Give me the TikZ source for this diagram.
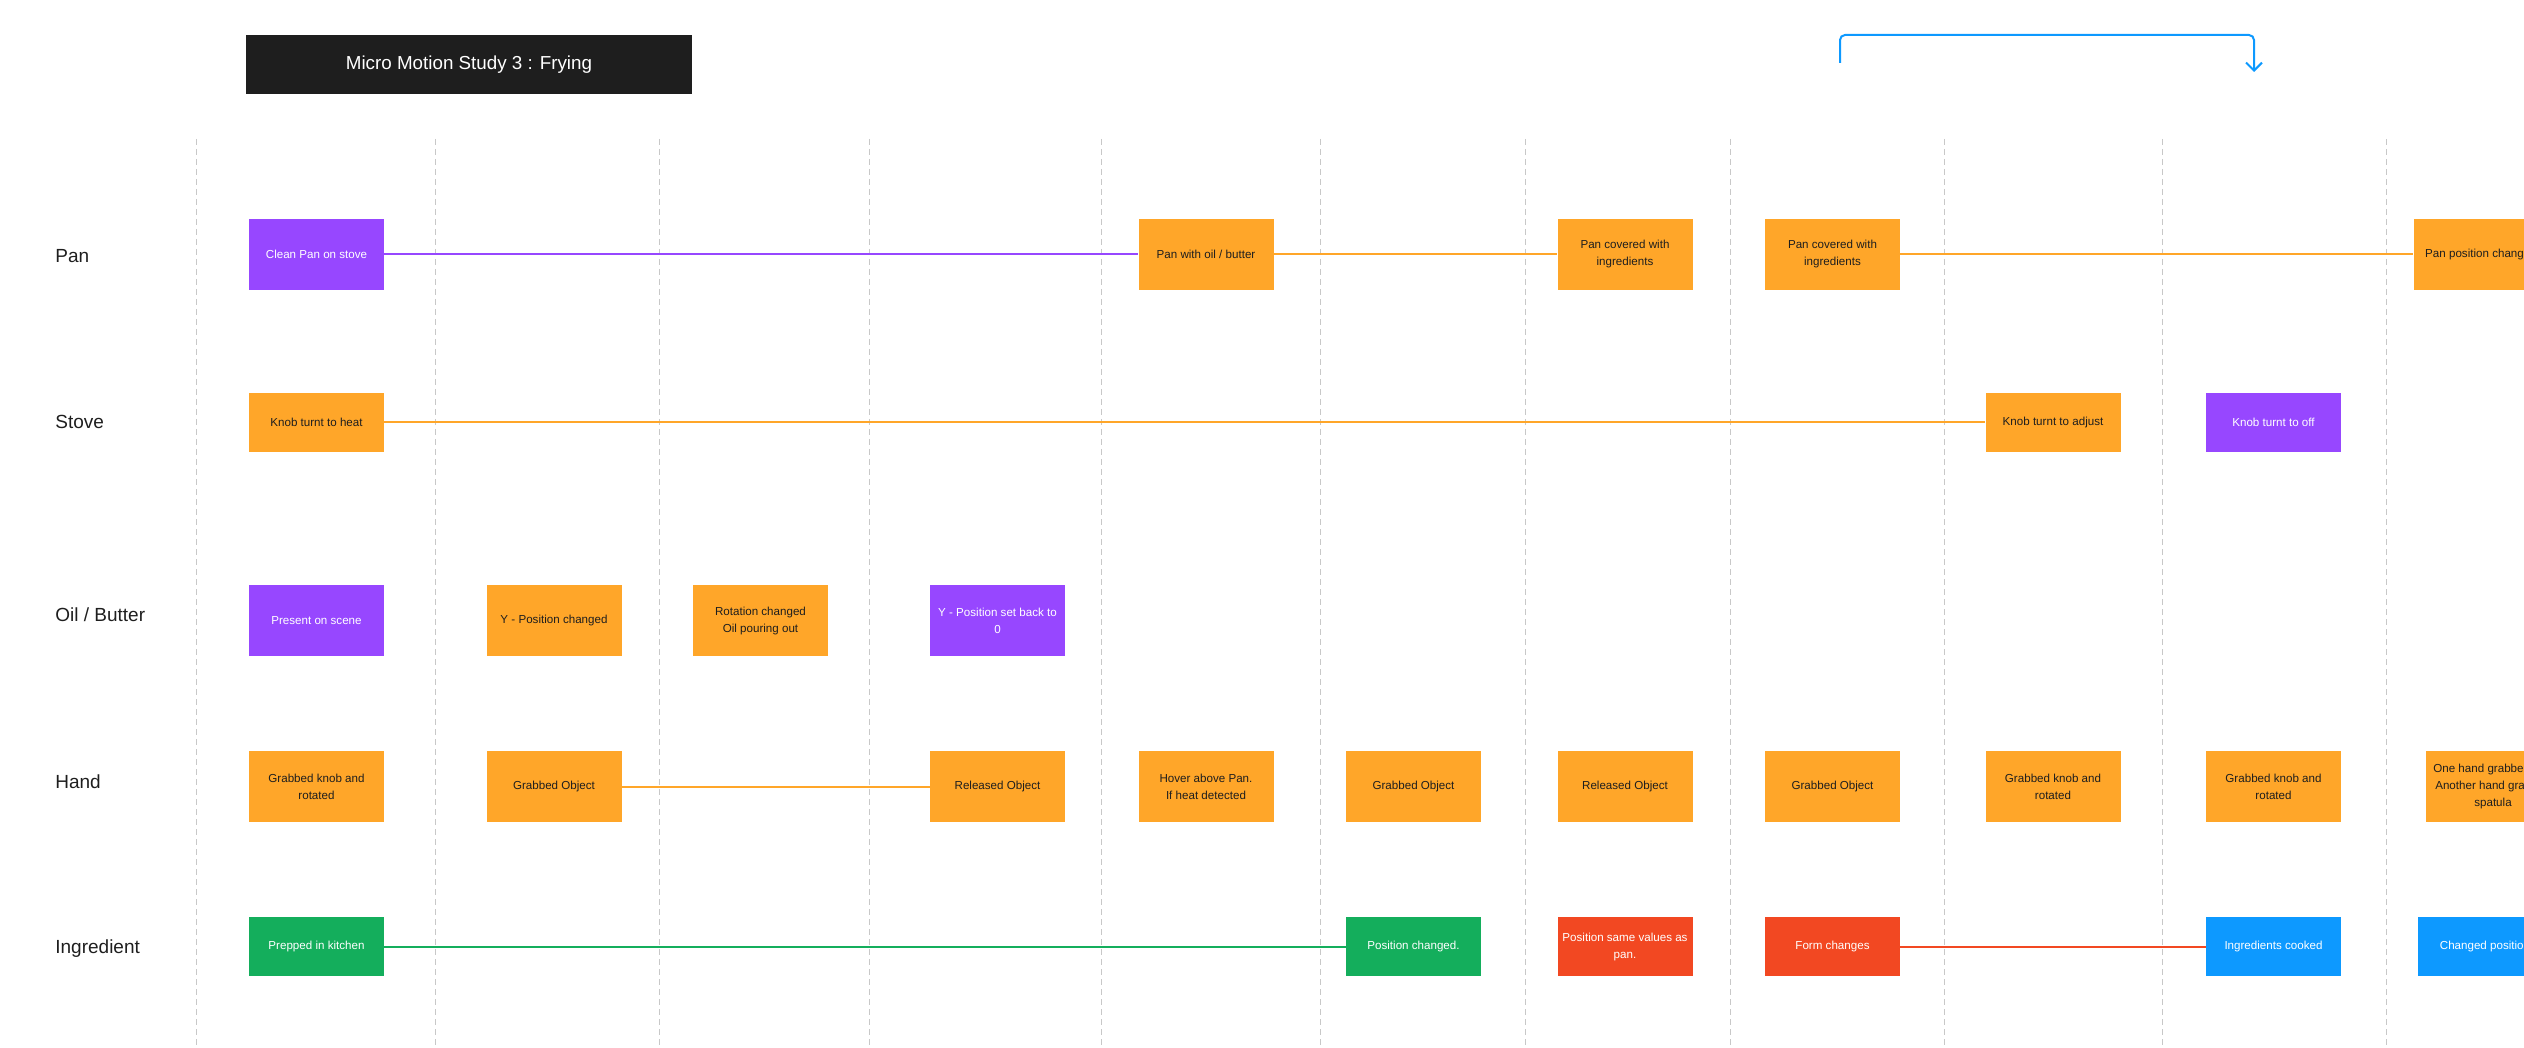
\documentclass[tikz,border=0pt]{standalone}
\usepackage{fontspec}
\setmainfont{Liberation Sans}
\usetikzlibrary{arrows.meta}
\definecolor{figpurple}{HTML}{9747FF}
\definecolor{figorange}{HTML}{FFA629}
\definecolor{figgreen}{HTML}{14AE5C}
\definecolor{figred}{HTML}{F24822}
\definecolor{figblue}{HTML}{0D99FF}
\definecolor{figdark}{HTML}{1E1E1E}
\definecolor{gridgrey}{HTML}{C8C8C8}

\begin{document}
\begin{tikzpicture}[x=0.5pt,y=-0.5pt,
    card/.style={minimum width=67.5pt,minimum height=35.5pt,inner sep=0pt,
      align=center,font=\fontsize{5.8}{8.5}\selectfont},
    low/.style={minimum height=29.5pt},
    orangecard/.style={card,fill=figorange,text=figdark},
    purplecard/.style={card,fill=figpurple,text=white},
    greencard/.style={card,fill=figgreen,text=white},
    redcard/.style={card,fill=figred,text=white},
    bluecard/.style={card,fill=figblue,text=white},
    rowlabel/.style={anchor=base west,inner sep=0pt,text=figdark,font=\fontsize{9.5}{11}\selectfont},
    track/.style={line width=1pt}]
    \useasboundingbox (0,0) rectangle (2524,1048);
    \clip (0,0) rectangle (2524,1048);

    % time columns
    \foreach \x in {196,435,659,869,1101,1320,1525,1730,1944,2162,2386}
      \draw[gridgrey,line width=0.5pt,dash pattern=on 3pt off 2pt] (\x,139) -- (\x,1048);

    % title
    \node[fill=figdark,text=white,minimum width=223pt,minimum height=29.5pt,
      font=\fontsize{9.4}{11}\selectfont] (title) at (469,64.5) {Micro Motion Study 3 : Frying};

    % loop arrow
    \coordinate (loopstart) at (1840,63);
    \coordinate (loopend) at (2254,72);
    \draw[figblue,line width=1pt,rounded corners=2.5pt,-{Straight Barb[length=4pt,width=8pt]}]
      (loopstart) -- (loopstart |- 0,35) -| (loopend);

    % row labels
    \node[rowlabel] (lpan) at (55,263) {Pan};
    \node[rowlabel] (lstove) at (55,429) {Stove};
    \node[rowlabel] (loil) at (55,621) {Oil / Butter};
    \node[rowlabel] (lhand) at (55,788) {Hand};
    \node[rowlabel] (lingr) at (55,953) {Ingredient};

    % pan
    \node[purplecard] (pan1) at (316.5,254.5) {Clean Pan on stove};
    \node[orangecard] (pan2) at (1206,254.5) {Pan with oil / butter};
    \node[orangecard] (pan3) at (1625,254.5) {Pan covered with\\ingredients};
    \node[orangecard] (pan4) at (1832.5,254.5) {Pan covered with\\ingredients};
    \node[orangecard] (pan5) at (2481,254.5) {Pan position changed};
    \draw[track,figpurple] (pan1.east) -- (pan2.west);
    \draw[track,figorange] (pan2.east) -- (pan3.west);
    \draw[track,figorange] (pan4.east) -- (pan5.west);

    % stove
    \node[orangecard,low] (stove1) at (316.5,422.5) {Knob turnt to heat};
    \node[orangecard,low] (stove2) at (2053,422.5) {Knob turnt to adjust};
    \node[purplecard,low] (stove3) at (2273.5,422.5) {Knob turnt to off};
    \draw[track,figorange] (stove1.east) -- (stove2.west);

    % oil / butter
    \node[purplecard] (oil1) at (316.5,620.5) {Present on scene};
    \node[orangecard] (oil2) at (554,620.5) {Y - Position changed};
    \node[orangecard] (oil3) at (760.5,620.5) {Rotation changed\\Oil pouring out};
    \node[purplecard] (oil4) at (997.5,620.5) {Y - Position set back to\\0};

    % hand
    \node[orangecard] (hand1) at (316.5,786.5) {Grabbed knob and\\rotated};
    \node[orangecard] (hand2) at (554,786.5) {Grabbed Object};
    \node[orangecard] (hand3) at (997.5,786.5) {Released Object};
    \node[orangecard] (hand4) at (1206,786.5) {Hover above Pan.\\If heat detected};
    \node[orangecard] (hand5) at (1413.5,786.5) {Grabbed Object};
    \node[orangecard] (hand6) at (1625,786.5) {Released Object};
    \node[orangecard] (hand7) at (1832.5,786.5) {Grabbed Object};
    \node[orangecard] (hand8) at (2053,786.5) {Grabbed knob and\\rotated};
    \node[orangecard] (hand9) at (2273.5,786.5) {Grabbed knob and\\rotated};
    \node[orangecard] (hand10) at (2493,786.5) {One hand grabbed pan\\Another hand grabbed\\spatula};
    \draw[track,figorange] (hand2.east) -- (hand3.west);

    % ingredient
    \node[greencard,low] (ingr1) at (316.5,946.5) {Prepped in kitchen};
    \node[greencard,low] (ingr2) at (1413.5,946.5) {Position changed.};
    \node[redcard,low] (ingr3) at (1625,946.5) {Position same values as\\pan.};
    \node[redcard,low] (ingr4) at (1832.5,946.5) {Form changes};
    \node[bluecard,low] (ingr5) at (2273.5,946.5) {Ingredients cooked};
    \node[bluecard,low] (ingr6) at (2485,946.5) {Changed position};
    \draw[track,figgreen] (ingr1.east) -- (ingr2.west);
    \draw[track,figred] (ingr4.east) -- (ingr5.west);
  \end{tikzpicture}
\end{document}
